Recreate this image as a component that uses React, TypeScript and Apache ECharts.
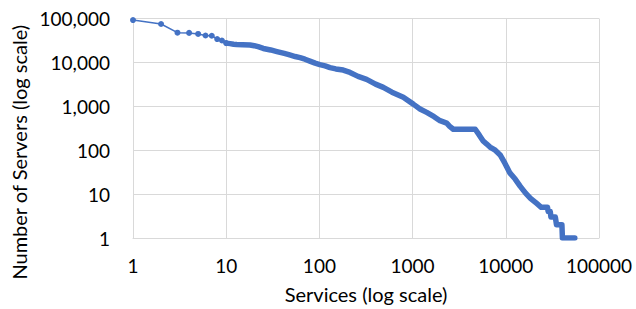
import React, { useEffect, useRef } from "react";
import * as echarts from "echarts";

// Services rank (x) vs number of servers (y)
const sparseServices = [1, 2, 3, 4, 5, 6, 7, 8, 9, 10];
const sparseServers = [92000, 75000, 47500, 47000, 44500, 41000, 40500, 34000, 31500, 27500];

const denseServices = [
  10, 11, 12, 13, 15, 18, 20, 22, 25, 30, 35, 42, 48, 55, 62, 70, 79, 90, 101, 115,
  130, 150, 180, 213, 260, 321, 400, 485, 600, 795, 1017, 1200, 1417, 1700, 1968,
  2322, 2500, 2735, 4700, 5200, 5740, 6200, 6770, 7700, 8700, 9800, 11100, 12600,
  14300, 16300, 18400, 21300, 24000, 28000, 28500, 30000, 30500, 34000, 35000,
  40000, 40500, 55000,
];
const denseServers = [
  27500, 26800, 26000, 25600, 25300, 25000, 24000, 22800, 20800, 19200, 17600, 16000,
  14800, 13600, 12800, 11800, 10700, 9600, 8900, 8300, 7600, 7100, 6700, 5900, 4800,
  4100, 3200, 2700, 2100, 1600, 1120, 870, 725, 580, 470, 415, 350, 300, 300, 220,
  160, 140, 118, 100, 78, 50, 30, 22, 15, 10.5, 8, 6.2, 5, 5, 4, 4, 3, 3, 2, 2, 1, 1,
];

const xTicks = ["1", "10", "100", "1000", "10000", "100000"];
const yTicks = ["1", "10", "100", "1,000", "10,000", "100,000"];

const xTitle = "Services (log scale)";
const yTitle = "Number of Servers (log scale)";

const COLOR = "#4472C4";
const FONT = "Lato";

export default function App() {
  const ref = useRef<HTMLDivElement>(null);

  useEffect(() => {
    if (!ref.current) return;
    const chart = echarts.init(ref.current, null, { renderer: "svg" });
    const pair = (xs: number[], ys: number[]) => xs.map((x, i) => [x, ys[i]]);
    const tickIndex = (v: number) => Math.round(Math.log10(v));

    chart.setOption({
      animation: false,
      textStyle: { fontFamily: FONT },
      grid: { left: 133, right: 37, top: 18.5, bottom: 69 },
      xAxis: {
        type: "log",
        logBase: 10,
        min: 1,
        max: 100000,
        name: xTitle,
        nameLocation: "middle",
        nameGap: 46,
        nameTextStyle: { fontFamily: FONT, fontSize: 20, color: "#000" },
        axisLine: { show: true, lineStyle: { color: "#D9D9D9", width: 1 } },
        axisTick: { show: false },
        axisLabel: {
          margin: 18,
          fontFamily: FONT,
          fontSize: 19,
          color: "#000",
          formatter: (v: number) => xTicks[tickIndex(v)] ?? "",
        },
        splitLine: { show: true, lineStyle: { color: "#D9D9D9", width: 1 } },
        minorTick: { show: false },
      },
      yAxis: {
        type: "log",
        logBase: 10,
        min: 1,
        max: 100000,
        name: yTitle,
        nameLocation: "middle",
        nameRotate: 90,
        nameGap: 94,
        nameTextStyle: { fontFamily: FONT, fontSize: 20, color: "#000", padding: [0, 48, 0, 0] },
        axisLine: { show: true, lineStyle: { color: "#D9D9D9", width: 1 } },
        axisTick: { show: false },
        axisLabel: {
          margin: 23,
          fontFamily: FONT,
          fontSize: 19,
          color: "#000",
          formatter: (v: number) => yTicks[tickIndex(v)] ?? "",
        },
        splitLine: { show: true, lineStyle: { color: "#D9D9D9", width: 1 } },
      },
      series: [
        {
          name: "sparse",
          type: "line",
          data: pair(sparseServices, sparseServers),
          symbol: "circle",
          symbolSize: 6,
          showSymbol: true,
          itemStyle: { color: COLOR },
          lineStyle: { color: COLOR, width: 1.5 },
          z: 3,
        },
        {
          name: "dense",
          type: "line",
          data: pair(denseServices, denseServers),
          symbol: "none",
          itemStyle: { color: COLOR },
          lineStyle: { color: COLOR, width: 5.5, cap: "round", join: "round" },
          z: 2,
        },
      ],
    });
    return () => chart.dispose();
  }, []);

  return (
    <div
      ref={ref}
      style={{ position: "absolute", left: 0, top: 0, width: 636, height: 309 }}
    />
  );
}
